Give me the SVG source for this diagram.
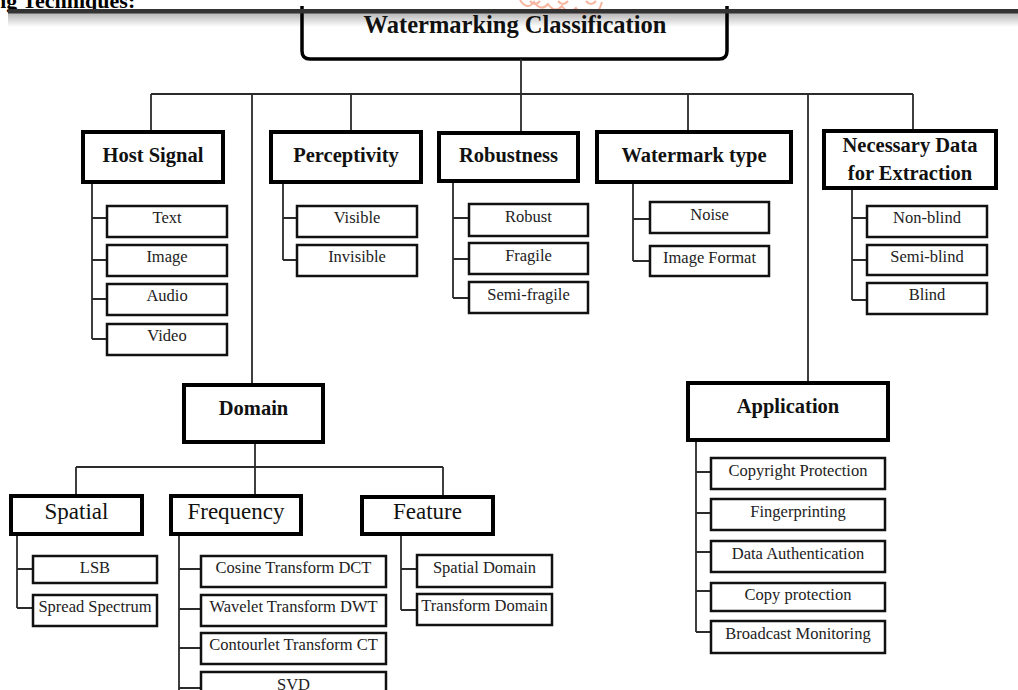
<svg xmlns="http://www.w3.org/2000/svg" width="1018" height="690" viewBox="0 0 1018 690">
<style>
.conn{stroke:#2b2b2b;stroke-width:1.8;fill:none}
.hb{fill:#fff;stroke:#000;stroke-width:4}
.lb{fill:#fff;stroke:#111;stroke-width:2.5}
.ht{font-family:"Liberation Serif","Times New Roman",serif;font-weight:bold;font-size:20.5px;fill:#111;text-anchor:middle}
.st{font-family:"Liberation Serif","Times New Roman",serif;font-size:23px;fill:#111;text-anchor:middle}
.lt{font-family:"Liberation Serif","Times New Roman",serif;font-size:16.5px;fill:#222;text-anchor:middle}
</style>
<defs>
<linearGradient id="shade" x1="0" y1="0" x2="0" y2="1">
<stop offset="0" stop-color="#b5b5b5"/>
<stop offset="1" stop-color="#ffffff"/>
</linearGradient>
</defs>
<rect width="1018" height="690" fill="#fff"/>
<g id="header">
<text x="-6" y="8" font-family="Liberation Serif,serif" font-weight="bold" font-size="22" fill="#000">ng Techniques:</text>
<rect x="8" y="13" width="1010" height="14" fill="url(#shade)"/>
<g fill="none" stroke="#f4a488" stroke-width="2" opacity="0.8">
<path d="M520,0 q7,11 14,2 q7,10 14,2 q7,10 14,2 q7,10 14,2 q7,10 14,2 q7,9 12,-8"/>
<path d="M530,1 q5,6 10,0 M558,1 q5,6 10,0 M586,1 q5,6 10,0"/>
</g>
</g>
<g id="root">
<path d="M302,6 V51 Q302,59 310,59 H719 Q727,59 727,51 V6" fill="none" stroke="#000" stroke-width="3.5"/>
<text x="515" y="33" font-family="Liberation Serif,serif" font-weight="bold" font-size="24.5" fill="#111" text-anchor="middle">Watermarking Classification</text>
</g>
<rect x="8" y="9" width="1010" height="4.5" fill="#333"/>
<g id="connectors" class="conn">
<path d="M521,59 V133"/>
<path d="M151,94 H913"/>
<path d="M151,94 V132 M252,94 V385 M351,94 V132 M688,94 V132 M808,94 V383 M913,94 V131"/>
<path d="M92,182 V339 M92,218 H107 M92,260 H107 M92,299 H107 M92,339 H107"/>
<path d="M283,182 V260 M283,218 H297 M283,260 H297"/>
<path d="M453,181 V298 M453,218 H469 M453,259 H469 M453,298 H469"/>
<path d="M633,182 V261 M633,219 H650 M633,261 H650"/>
<path d="M852,188 V300 M852,218 H867 M852,260 H867 M852,300 H867"/>
<path d="M255,442 V496 M76,467 H443 M76,467 V496 M443,467 V497"/>
<path d="M17,534 V608 M17,569 H33 M17,608 H33"/>
<path d="M179,534 V690 M179,569 H201 M179,609 H201 M179,648 H201 M179,688 H201"/>
<path d="M401,534 V610 M401,569 H417 M401,610 H417"/>
<path d="M696,440 V632 M696,472 H711 M696,513 H711 M696,552 H711 M696,591 H711 M696,632 H711"/>
</g>
<g id="host-signal"><rect class="hb" x="83" y="132" width="140" height="50"/><text class="ht" x="153" y="162">Host Signal</text></g>
<g id="perceptivity"><rect class="hb" x="271" y="132" width="150" height="50"/><text class="ht" x="346" y="162">Perceptivity</text></g>
<g id="robustness"><rect class="hb" x="439" y="133" width="139" height="48"/><text class="ht" x="508.5" y="162">Robustness</text></g>
<g id="watermark-type"><rect class="hb" x="597" y="132" width="194" height="50"/><text class="ht" x="694" y="162">Watermark type</text></g>
<g id="necessary-data"><rect class="hb" x="824" y="131" width="172" height="57"/><text class="ht" x="910" y="152">Necessary Data</text><text class="ht" x="910" y="180">for Extraction</text></g>
<g id="domain"><rect class="hb" x="184" y="385" width="139" height="57"/><text class="ht" x="253.5" y="415">Domain</text></g>
<g id="application"><rect class="hb" x="688" y="383" width="200" height="57"/><text class="ht" x="788" y="413">Application</text></g>
<g id="spatial"><rect class="hb" x="11" y="496" width="131" height="38"/><text class="st" x="76.5" y="519">Spatial</text></g>
<g id="frequency"><rect class="hb" x="171" y="496" width="130" height="38"/><text class="st" x="236" y="519">Frequency</text></g>
<g id="feature"><rect class="hb" x="362" y="497" width="131" height="37"/><text class="st" x="427.5" y="519">Feature</text></g>
<g id="text"><rect class="lb" x="107" y="206" width="120" height="31"/><text class="lt" x="167" y="223">Text</text></g>
<g id="image"><rect class="lb" x="107" y="245" width="120" height="31"/><text class="lt" x="167" y="262">Image</text></g>
<g id="audio"><rect class="lb" x="107" y="284" width="120" height="31"/><text class="lt" x="167" y="301">Audio</text></g>
<g id="video"><rect class="lb" x="107" y="324" width="120" height="31"/><text class="lt" x="167" y="341">Video</text></g>
<g id="visible"><rect class="lb" x="297" y="206" width="120" height="31"/><text class="lt" x="357" y="223">Visible</text></g>
<g id="invisible"><rect class="lb" x="297" y="245" width="120" height="31"/><text class="lt" x="357" y="262">Invisible</text></g>
<g id="robust"><rect class="lb" x="469" y="204" width="119" height="32"/><text class="lt" x="528.5" y="222">Robust</text></g>
<g id="fragile"><rect class="lb" x="469" y="243" width="119" height="31"/><text class="lt" x="528.5" y="261">Fragile</text></g>
<g id="semi-fragile"><rect class="lb" x="469" y="282" width="119" height="31"/><text class="lt" x="528.5" y="300">Semi-fragile</text></g>
<g id="noise"><rect class="lb" x="650" y="202" width="119" height="31"/><text class="lt" x="709.5" y="220">Noise</text></g>
<g id="image-format"><rect class="lb" x="650" y="246" width="119" height="30"/><text class="lt" x="709.5" y="263">Image Format</text></g>
<g id="non-blind"><rect class="lb" x="867" y="206" width="120" height="31"/><text class="lt" x="927" y="223">Non-blind</text></g>
<g id="semi-blind"><rect class="lb" x="867" y="245" width="120" height="30"/><text class="lt" x="927" y="262">Semi-blind</text></g>
<g id="blind"><rect class="lb" x="867" y="283" width="120" height="31"/><text class="lt" x="927" y="300">Blind</text></g>
<g id="lsb"><rect class="lb" x="33" y="556" width="124" height="27"/><text class="lt" x="95" y="573">LSB</text></g>
<g id="spread-spectrum"><rect class="lb" x="33" y="595" width="124" height="31"/><text class="lt" x="95" y="612">Spread Spectrum</text></g>
<g id="dct"><rect class="lb" x="201" y="556" width="185" height="31"/><text class="lt" x="293.5" y="573">Cosine Transform DCT</text></g>
<g id="dwt"><rect class="lb" x="201" y="595" width="185" height="31"/><text class="lt" x="293.5" y="612">Wavelet Transform DWT</text></g>
<g id="ct"><rect class="lb" x="201" y="633" width="185" height="31"/><text class="lt" x="293.5" y="650">Contourlet Transform CT</text></g>
<g id="svd"><rect class="lb" x="201" y="672" width="185" height="30"/><text class="lt" x="293.5" y="690">SVD</text></g>
<g id="spatial-domain"><rect class="lb" x="417" y="555" width="135" height="32"/><text class="lt" x="484.5" y="573">Spatial Domain</text></g>
<g id="transform-domain"><rect class="lb" x="417" y="594" width="135" height="31"/><text class="lt" x="484.5" y="611">Transform Domain</text></g>
<g id="copyright"><rect class="lb" x="711" y="458" width="174" height="31"/><text class="lt" x="798" y="476">Copyright Protection</text></g>
<g id="fingerprinting"><rect class="lb" x="711" y="499" width="174" height="31"/><text class="lt" x="798" y="517">Fingerprinting</text></g>
<g id="data-auth"><rect class="lb" x="711" y="541" width="174" height="31"/><text class="lt" x="798" y="559">Data Authentication</text></g>
<g id="copy-protection"><rect class="lb" x="711" y="583" width="174" height="28"/><text class="lt" x="798" y="600">Copy protection</text></g>
<g id="broadcast"><rect class="lb" x="711" y="621" width="174" height="32"/><text class="lt" x="798" y="639">Broadcast Monitoring</text></g>
</svg>
